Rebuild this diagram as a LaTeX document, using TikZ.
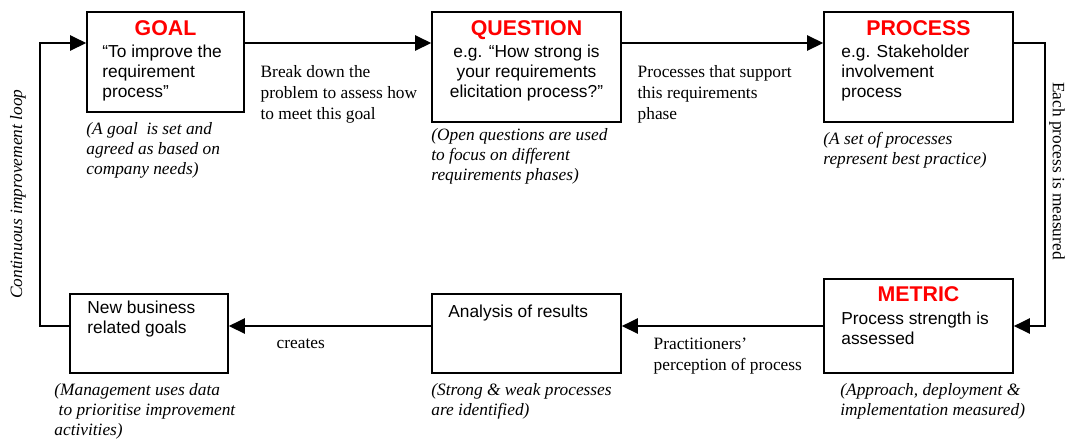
\documentclass[tikz,border=0pt]{standalone}
\usepackage{fontspec}
\setmainfont{Liberation Serif}
\setsansfont{Liberation Sans}
\usetikzlibrary{arrows.meta,positioning}
\definecolor{titlered}{RGB}{255,0,0}

\begin{document}
\begin{tikzpicture}[
            x=0.75pt, y=-0.75pt,
            box/.style={rectangle, draw, line width=1.3pt, inner sep=0pt, fill=white},
            boxtitle/.style={font=\sffamily\bfseries\fontsize{16}{18}\selectfont, text=titlered, inner sep=0pt, anchor=base},
            boxtext/.style={font=\sffamily\fontsize{13}{15}\selectfont, inner sep=0pt, align=left},
            notetext/.style={font=\itshape\fontsize{13}{15}\selectfont, inner sep=0pt, align=left, anchor=north west},
            edgelabel/.style={font=\fontsize{13}{15.4}\selectfont, inner sep=0pt, align=left, anchor=north west},
            arrow/.style={-{Triangle[length=12pt, width=11.5pt]}, line width=1.2pt}
        ]
            \useasboundingbox (0,0) rectangle (1070,440);

            % --- GUIDE LINES ---
            \coordinate (topLine) at (0,43);
            \coordinate (bottomLine) at (0,326);
            \coordinate (loopLeft) at (40,0);
            \coordinate (loopRight) at (1045,0);

            % --- TOP ROW ---
            % Goal
            \node[box, minimum width=117.75pt, minimum height=75pt] (goal) at (165.5,62) {};
            \node[boxtitle] (goalTitle) at ([yshift=-18pt]goal.north) {GOAL};
            \node[boxtext, anchor=north west] (goalText) at ([xshift=12pt, yshift=-25pt]goal.north west) {“To improve the\\requirement\\process”};
            \node[notetext] (goalNote) at ([yshift=-7pt]goal.south west) {(A goal~ is set and\\agreed as based on\\company needs)};

            % Question
            \node[box, minimum width=141.75pt, minimum height=82.5pt] (question) at (526.5,67) {};
            \node[boxtitle] (questionTitle) at ([yshift=-18pt]question.north) {QUESTION};
            \node[boxtext, anchor=north, align=center] (questionText) at ([yshift=-25pt]question.north) {e.g. “How strong is\\your requirements\\elicitation process?”};
            \node[notetext] (questionNote) at ([yshift=-4.2pt]question.south west) {(Open questions are used\\to focus on different\\requirements phases)};

            % Process
            \node[box, minimum width=141.75pt, minimum height=82.5pt] (process) at (918.5,67) {};
            \node[boxtitle] (processTitle) at ([yshift=-18pt]process.north) {PROCESS};
            \node[boxtext, anchor=north west] (processText) at ([xshift=13.5pt, yshift=-25pt]process.north west) {e.g. Stakeholder\\involvement\\process};
            \node[notetext] (processNote) at ([yshift=-6.5pt]process.south west) {(A set of processes\\represent best practice)};

            % --- BOTTOM ROW ---
            % Metric
            \node[box, minimum width=141.75pt, minimum height=70.5pt] (metric) at (918.5,326) {};
            \node[boxtitle] (metricTitle) at ([yshift=-17.5pt]metric.north) {METRIC};
            \node[boxtext, anchor=north west] (metricText) at ([xshift=13.5pt, yshift=-25pt]metric.north west) {Process strength is\\assessed};
            \node[notetext] (metricNote) at ([xshift=12.75pt, yshift=-7pt]metric.south west) {(Approach, deployment \&\\implementation measured)};

            % Analysis
            \node[box, minimum width=141.75pt, minimum height=59.25pt] (analysis) at (526.5,333.5) {};
            \node[boxtext, anchor=north west] (analysisText) at ([xshift=12.75pt, yshift=-8.5pt]analysis.north west) {Analysis of results};
            \node[notetext] (analysisNote) at ([yshift=-7pt]analysis.south west) {(Strong \& weak processes\\are identified)};

            % New goals
            \node[box, minimum width=118.5pt, minimum height=59.25pt] (newGoals) at (149,333.5) {};
            \node[boxtext, anchor=north west] (newGoalsText) at ([xshift=13.5pt, yshift=-5.5pt]newGoals.north west) {New business\\related goals};
            \node[notetext] (newGoalsNote) at ([xshift=-11.25pt, yshift=-7pt]newGoals.south west) {(Management uses data\\\ to prioritise improvement\\activities)};

            % --- CONNECTORS ---
            \draw[arrow] (goal.east |- topLine) -- node[edgelabel, pos=0, xshift=11.25pt, yshift=-16.6pt] (breakLabel) {Break down the\\problem to assess how\\to meet this goal} (question.west |- topLine);
            \draw[arrow] (question.east |- topLine) -- node[edgelabel, pos=0, xshift=11.25pt, yshift=-16.6pt] (supportLabel) {Processes that support\\this requirements\\phase} (process.west |- topLine);
            \draw[arrow] (process.east |- topLine) -- (loopRight |- topLine) -- node[pos=0.452, rotate=-90, anchor=south, inner sep=2.5pt, font=\fontsize{13}{15}\selectfont] (measureLabel) {Each process is measured} (loopRight |- bottomLine) -- (metric.east);
            \draw[arrow] (metric.west) -- node[edgelabel, pos=1, xshift=23.25pt, yshift=-8.4pt] (practLabel) {Practitioners’\\perception of process} (analysis.east |- bottomLine);
            \draw[arrow] (analysis.west |- bottomLine) -- node[edgelabel, pos=1, xshift=35.25pt, yshift=-9pt] (createsLabel) {creates} (newGoals.east |- bottomLine);
            \draw[arrow] (newGoals.west |- bottomLine) -- (loopLeft |- bottomLine) -- node[pos=0.466, rotate=90, anchor=south, inner sep=10pt, font=\itshape\fontsize{13}{15}\selectfont] (loopLabel) {Continuous improvement loop} (loopLeft |- topLine) -- (goal.west |- topLine);

        \end{tikzpicture}
\end{document}
